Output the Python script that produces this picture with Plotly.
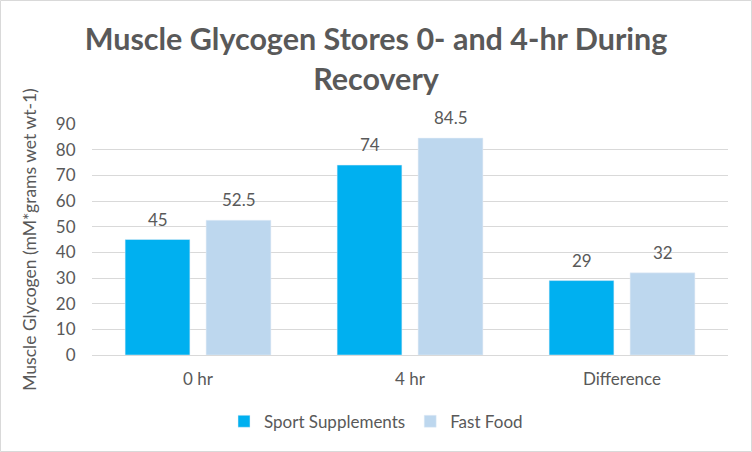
import plotly.graph_objects as go

categories = ["0 hr", "4 hr", "Difference"]
sport_supplements = [45, 74, 29]
fast_food = [52.5, 84.5, 32]
series_names = ["Sport Supplements", "Fast Food"]
series_colors = ["#00B0F0", "#BDD7EE"]

font_family = "Lato, 'Open Sans', sans-serif"
grey = "#595959"
light = "#D9D9D9"

fig = go.Figure()
for name, values, color in zip(series_names, [sport_supplements, fast_food], series_colors):
	fig.add_trace(go.Bar(x=categories, y=values, name=name, marker=dict(color=color)))

# value labels above bars (offset left/right of category centre)
for values, shift in zip([sport_supplements, fast_food], [-40.5, 40.5]):
	for cat, v in zip(categories, values):
		fig.add_annotation(x=cat, y=v, text=str(v), showarrow=False,
			xshift=shift, yshift=8, yanchor="bottom",
			font=dict(size=17, color=grey))

fig.update_layout(
	width=752, height=452,
	plot_bgcolor="#ffffff", paper_bgcolor="#ffffff",
	font=dict(family=font_family, color=grey),
	title=dict(text="<b>Muscle Glycogen Stores 0- and 4-hr During<br>Recovery</b>",
		x=0.5, xanchor="center", xref="container", yref="container", y=0.889, yanchor="top",
		font=dict(size=30.5, color=grey)),
	margin=dict(l=92, r=24, t=124, b=97),
	barmode="group", bargap=0.236, bargroupgap=0.2,
	legend=dict(orientation="h", x=0.5, xanchor="center", xref="container",
		y=0.067, yanchor="middle", yref="container",
		font=dict(size=17, color=grey), itemwidth=30),
	showlegend=True)
fig.update_xaxes(showgrid=False, showline=True, linecolor=light, linewidth=1,
	tickfont=dict(size=17, color=grey), ticks="outside", ticklen=9,
	tickcolor="rgba(0,0,0,0)", automargin=False)
fig.update_yaxes(range=[0, 90], dtick=10, showgrid=True, gridcolor=light,
	zeroline=False, showline=False, tickfont=dict(size=17, color=grey),
	ticks="outside", ticklen=12, tickcolor="rgba(0,0,0,0)", automargin=False,
	title=dict(text="Muscle Glycogen (mM*grams wet wt-1)", font=dict(size=17.5, color=grey), standoff=14))

# thin frame round the whole chart
fig.add_shape(type="rect", xref="paper", yref="paper", x0=-91.5/636, y0=-96.5/231, x1=1 + 23.5/636, y1=1 + 123.5/231,
	line=dict(color=light, width=1), layer="below")

fig.write_html("out.html", config={"displayModeBar": False},
	post_script="document.body.style.margin='0';")
